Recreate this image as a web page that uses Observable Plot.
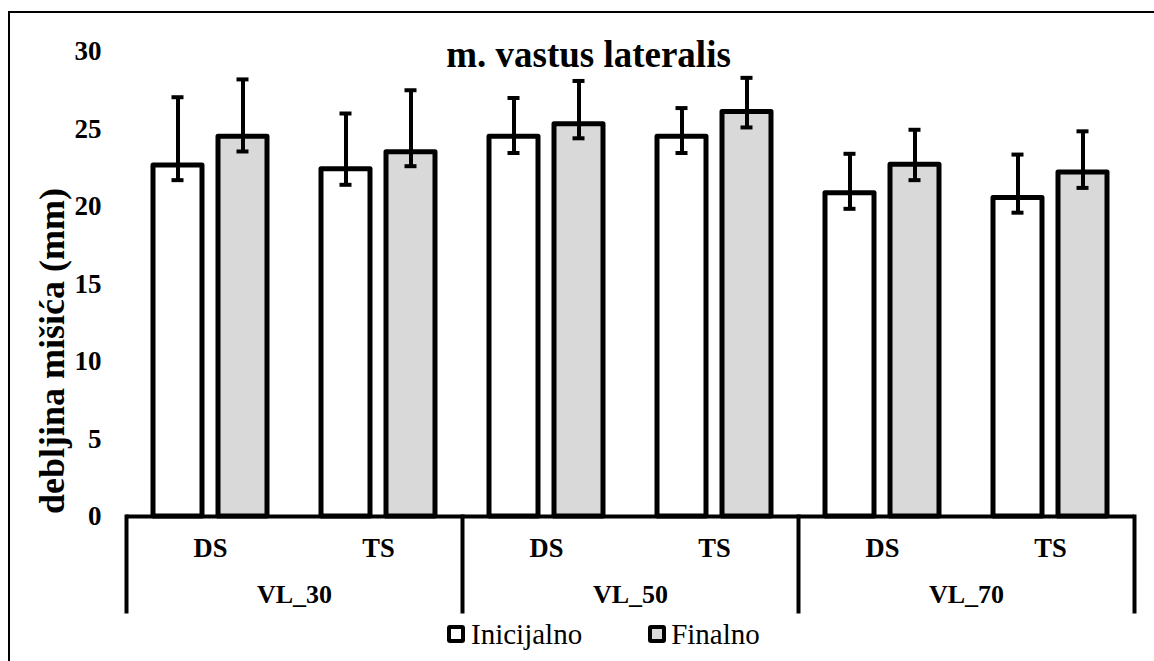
<!DOCTYPE html>
<html>
<head>
<meta charset="utf-8">
<script src="https://cdn.jsdelivr.net/npm/d3@7"></script>
<script src="https://cdn.jsdelivr.net/npm/@observablehq/plot@0.6"></script>
<style>
  html, body { margin: 0; padding: 0; background: #fff; overflow: hidden; }
  #wrap { position: relative; width: 1154px; height: 661px; }
  #border { position: absolute; left: 8px; top: 11px; width: 1200px; height: 700px; border: 2px solid #000;
            box-sizing: border-box; pointer-events: none; }
  #chart { position: absolute; left: 0; top: 0; }
  #legend { position: absolute; left: 447px; top: 616px; height: 36px; display: flex; align-items: center; color: #000; }
  .sw { width: 18px; height: 18px; box-sizing: border-box; border: 4px solid #000; border-radius: 3px; }
  .item { display: flex; align-items: center; }
</style>
</head>
<body>
<div id="wrap">
  <div id="chart"></div>
  <div id="legend"></div>
  <div id="border"></div>
</div>
<script>
const groups = ["VL_30", "VL_50", "VL_70"];
const subgroups = ["DS", "TS"];
const series = ["Inicijalno", "Finalno"];
const seriesColors = ["#ffffff", "#d9d9d9"];

// order: VL_30 DS, VL_30 TS, VL_50 DS, VL_50 TS, VL_70 DS, VL_70 TS
const initialMean = [22.65, 22.4, 24.5, 24.5, 20.85, 20.55];
const initialLow  = [21.7, 21.4, 23.45, 23.45, 19.85, 19.6];
const initialHigh = [27.05, 26.0, 27.0, 26.35, 23.4, 23.35];
const finalMean = [24.5, 23.5, 25.3, 26.1, 22.7, 22.2];
const finalLow  = [23.55, 22.6, 24.4, 25.1, 21.7, 21.2];
const finalHigh = [28.2, 27.5, 28.1, 28.3, 24.95, 24.85];

const yTicks = [0, 5, 10, 15, 20, 25, 30];
const title = "m. vastus lateralis";
const yLabel = "debljina mišića (mm)";

const cells = groups.flatMap(g => subgroups.map(s => ({group: g, sub: s, key: g + "|" + s})));
const data = cells.flatMap((c, i) => [
  {...c, series: series[0], value: initialMean[i], lo: initialLow[i], hi: initialHigh[i]},
  {...c, series: series[1], value: finalMean[i], lo: finalLow[i], hi: finalHigh[i]}
]);

const W = 1154, H = 616, mT = 51, mB = 100, mL = 125, mR = 19;
const plotH = H - mT - mB;
const font = "'Liberation Serif', 'DejaVu Serif', serif";

const separators = [
  ...groups.map(g => Plot.frame({fx: () => g + "|DS", anchor: "left", stroke: "#000", strokeWidth: 4,
                                 insetTop: plotH, insetBottom: -95})),
  Plot.frame({fx: () => groups[groups.length - 1] + "|" + subgroups[subgroups.length - 1], anchor: "right",
              stroke: "#000", strokeWidth: 4, insetTop: plotH, insetBottom: -95})
];

const chart = Plot.plot({
  width: W, height: H, marginTop: mT, marginBottom: mB, marginLeft: mL, marginRight: mR,
  style: {fontFamily: font, background: "transparent", color: "black", overflow: "visible"},
  fx: {domain: cells.map(c => c.key), padding: 0, axis: null, label: null},
  x: {domain: series, paddingInner: 0.252, paddingOuter: 0.411, axis: null},
  y: {domain: [0, 30], axis: null},
  color: {domain: series, range: seriesColors},
  marks: [
    Plot.barY(data, {fx: "key", x: "series", y: "value", fill: "series", stroke: "#000",
                     strokeWidth: 5, strokeLinejoin: "round"}),
    Plot.ruleY([0], {stroke: "#000", strokeWidth: 4}),
    Plot.ruleX(data, {fx: "key", x: "series", y1: "lo", y2: "hi", stroke: "#000", strokeWidth: 4}),
    Plot.tickY(data, {fx: "key", x: "series", y: "hi", stroke: "#000", strokeWidth: 4, inset: 18.5}),
    Plot.tickY(data, {fx: "key", x: "series", y: "lo", stroke: "#000", strokeWidth: 4, inset: 18.5}),
    Plot.axisY({ticks: yTicks, tickSize: 0, tickPadding: 25, fontSize: 27, fontWeight: "bold", label: null}),
    Plot.text(cells, {fx: "key", text: "sub", frameAnchor: "bottom", dy: 32.5, lineAnchor: "middle",
                      fontSize: 26.5, fontWeight: "bold", fill: "#000"}),
    Plot.text(groups, {fx: g => g + "|DS", text: g => g, frameAnchor: "bottom-right", textAnchor: "middle",
                       dy: 78.5, lineAnchor: "middle", fontSize: 26, fontWeight: "bold", fill: "#000"}),
    Plot.text([title], {facet: "super", text: d => d, frameAnchor: "top", dx: -42, dy: 4, lineAnchor: "middle",
                        fontSize: 37, fontWeight: "bold", fill: "#000"}),
    Plot.text([yLabel], {facet: "super", text: d => d, frameAnchor: "left", textAnchor: "middle", rotate: -90,
                         dx: -74, dy: 67, lineAnchor: "middle", fontSize: 36, fontWeight: "bold", fill: "#000"}),
    ...separators
  ]
});
document.getElementById("chart").appendChild(chart);

const legend = document.getElementById("legend");
series.forEach((s, i) => {
  const item = document.createElement("div");
  item.className = "item";
  if (i > 0) item.style.marginLeft = "66px";
  const sw = document.createElement("div");
  sw.className = "sw";
  sw.style.background = seriesColors[i];
  const label = document.createElement("span");
  label.textContent = s;
  label.style.fontFamily = font;
  label.style.fontSize = "29px";
  label.style.fontWeight = "400";
  label.style.marginLeft = i === 0 ? "6px" : "5px";
  item.appendChild(sw);
  item.appendChild(label);
  legend.appendChild(item);
});
</script>
</body>
</html>
